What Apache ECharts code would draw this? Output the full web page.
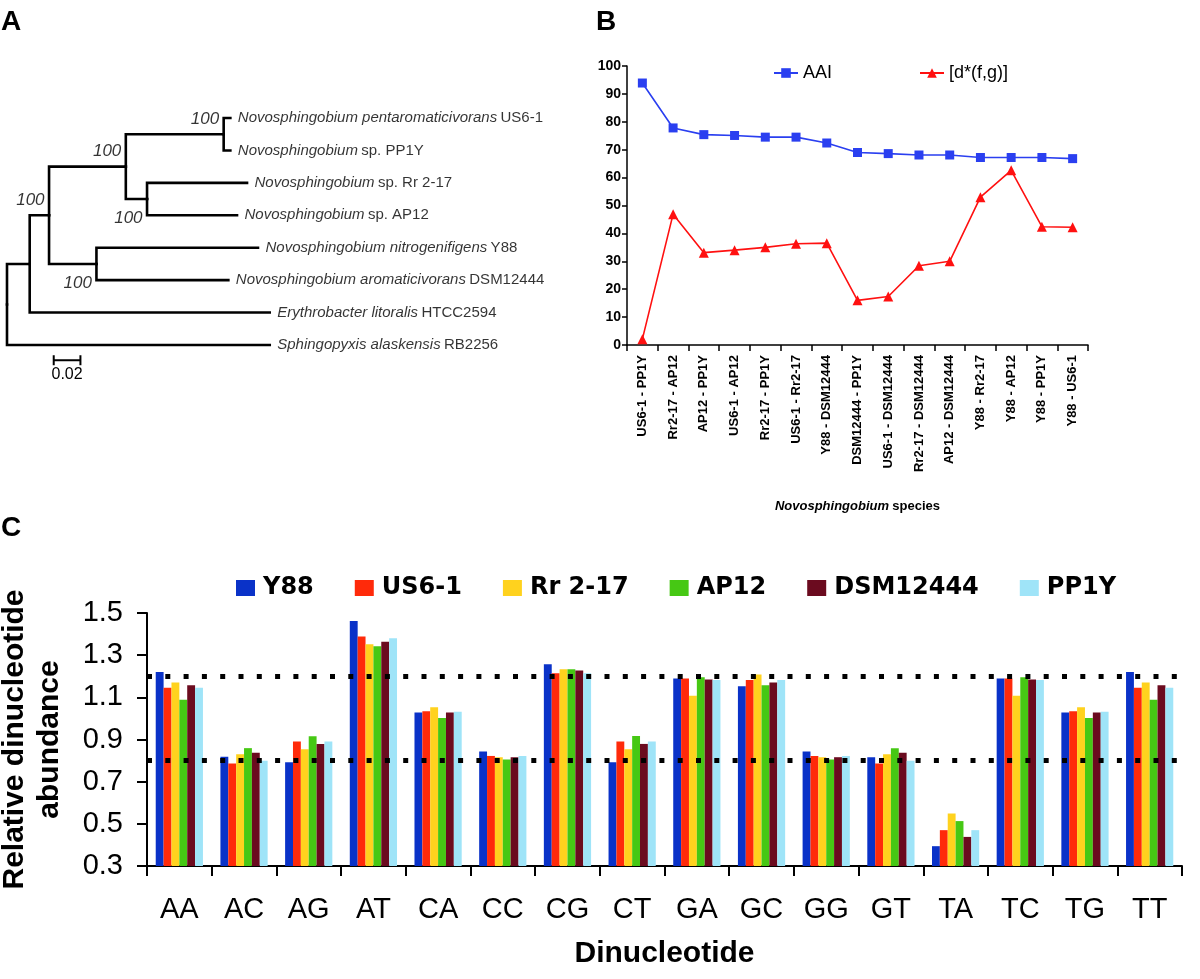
<!DOCTYPE html>
<html>
<head>
<meta charset="utf-8">
<script src="https://cdn.jsdelivr.net/npm/echarts@6/dist/echarts.min.js"></script>
<style>
  html, body { margin: 0; background: #fff; }
  #fig { width: 1200px; height: 979px; }
</style>
</head>
<body>
<div id="fig"></div>
<script>
var SANS = '"Liberation Sans", Arial, sans-serif';

// ---- panel A: tree (depth = substitutions/site from root)
var nodeIds    = ['root', 'n1', 'n2', 'n3', 'n4', 'US6-1', 'PP1Y', 'n5', 'Rr2-17', 'AP12', 'n6', 'Y88', 'DSM12444', 'HTCC2594', 'RB2256'];
var nodeParent = [null, 'root', 'n1', 'n2', 'n3', 'n4', 'n4', 'n3', 'n5', 'n5', 'n2', 'n6', 'n6', 'n1', 'root'];
var nodeDepth  = [0, 0.017, 0.0315, 0.089, 0.1623, 0.1673, 0.1673, 0.1049, 0.1798, 0.1723, 0.067, 0.188, 0.1658, 0.1968, 0.1968];
var leafOrder  = ['US6-1', 'PP1Y', 'Rr2-17', 'AP12', 'Y88', 'DSM12444', 'HTCC2594', 'RB2256'];
var leafItalic = ['Novosphingobium pentaromaticivorans', 'Novosphingobium', 'Novosphingobium', 'Novosphingobium',
                  'Novosphingobium nitrogenifigens', 'Novosphingobium aromaticivorans', 'Erythrobacter litoralis', 'Sphingopyxis alaskensis'];
var leafPlain  = ['US6-1', 'sp. PP1Y', 'sp. Rr 2-17', 'sp. AP12', 'Y88', 'DSM12444', 'HTCC2594', 'RB2256'];
var bootNodes  = ['n2', 'n3', 'n4', 'n5', 'n6'];
var bootValues = [100, 100, 100, 100, 100];
var bootAnchor = ['mid', 'mid', 'top', 'bottom', 'bottom'];
var scaleBar   = [0.035, 0.02]; // start, length
var scaleLabel = '0.02';

// ---- panel B
var pairs = ['US6-1 - PP1Y', 'Rr2-17 - AP12', 'AP12 - PP1Y', 'US6-1 - AP12', 'Rr2-17 - PP1Y', 'US6-1 - Rr2-17',
             'Y88 - DSM12444', 'DSM12444 - PP1Y', 'US6-1 - DSM12444', 'Rr2-17 - DSM12444', 'AP12 - DSM12444',
             'Y88 - Rr2-17', 'Y88 - AP12', 'Y88 - PP1Y', 'Y88 - US6-1'];
var aai   = [93.9, 77.8, 75.4, 75.1, 74.5, 74.5, 72.4, 69.0, 68.6, 68.1, 68.1, 67.2, 67.2, 67.2, 66.8];
var dstar = [2.1, 46.9, 33.1, 34.0, 35.0, 36.3, 36.5, 16.0, 17.4, 28.4, 30.0, 53.0, 62.6, 42.4, 42.2];

// ---- panel C
var dinucs  = ['AA', 'AC', 'AG', 'AT', 'CA', 'CC', 'CG', 'CT', 'GA', 'GC', 'GG', 'GT', 'TA', 'TC', 'TG', 'TT'];
var strains = ['Y88', 'US6-1', 'Rr 2-17', 'AP12', 'DSM12444', 'PP1Y'];
var y88   = [1.22, 0.818, 0.792, 1.462, 1.028, 0.843, 1.257, 0.792, 1.189, 1.152, 0.843, 0.816, 0.394, 1.189, 1.028, 1.22];
var us61  = [1.146, 0.786, 0.89, 1.388, 1.034, 0.822, 1.214, 0.89, 1.189, 1.182, 0.822, 0.786, 0.47, 1.189, 1.034, 1.146];
var rr217 = [1.17, 0.83, 0.854, 1.352, 1.053, 0.816, 1.233, 0.854, 1.108, 1.208, 0.816, 0.83, 0.549, 1.108, 1.053, 1.17];
var ap12  = [1.089, 0.859, 0.915, 1.342, 1.002, 0.805, 1.233, 0.917, 1.195, 1.157, 0.805, 0.859, 0.513, 1.195, 1.002, 1.089];
var dsm   = [1.157, 0.837, 0.879, 1.364, 1.028, 0.816, 1.227, 0.879, 1.184, 1.17, 0.816, 0.837, 0.438, 1.184, 1.028, 1.157];
var pp1y  = [1.146, 0.799, 0.89, 1.38, 1.032, 0.822, 1.214, 0.89, 1.182, 1.182, 0.822, 0.799, 0.47, 1.182, 1.032, 1.146];
var thresholds = [1.2, 0.8];
var yTicksC = [0.3, 1.5, 0.2]; // min, max, step
var strainColors = ['#0a32c8', '#ff2a0a', '#ffd21e', '#46c814', '#6b0b1f', '#9fe4f8'];

// tree layout helpers
function idx(id) { return nodeIds.indexOf(id); }
function children(id) {
  var out = [];
  nodeParent.forEach(function (p, i) { if (p === id) out.push(nodeIds[i]); });
  return out;
}
function nodeY(id) {
  var li = leafOrder.indexOf(id);
  if (li >= 0) return li;
  var ys = children(id).map(nodeY);
  return (Math.min.apply(null, ys) + Math.max.apply(null, ys)) / 2;
}
var edges = [];
nodeIds.forEach(function (id, i) {
  var p = nodeParent[i];
  if (!p) return;
  edges.push([nodeDepth[idx(p)], nodeY(p), nodeDepth[i], nodeY(id)]);
});
var leafPts = leafOrder.map(function (id, i) { return [nodeDepth[idx(id)], i]; });
var bootPts = bootNodes.map(function (id, i) {
  var ys = children(id).map(nodeY);
  var y = bootAnchor[i] === 'top' ? Math.min.apply(null, ys)
        : bootAnchor[i] === 'bottom' ? Math.max.apply(null, ys) : nodeY(id);
  return { value: [nodeDepth[idx(id)], y], anchor: bootAnchor[i], text: bootValues[i] };
});

var chart = echarts.init(document.getElementById('fig'));

var barData = [y88, us61, rr217, ap12, dsm, pp1y];
var barSeries = strains.map(function (s, i) {
  var o = {
    name: s, type: 'bar', xAxisIndex: 2, yAxisIndex: 2,
    data: barData[i], barGap: '0%', barCategoryGap: '27%',
    itemStyle: { color: strainColors[i] }
  };
  if (i === strains.length - 1) {
    o.markLine = {
      silent: true, symbol: ['none', 'none'], label: { show: false },
      lineStyle: { color: '#000', width: 5, type: [5, 13.3], opacity: 1 },
      data: thresholds.map(function (t) { return { yAxis: t }; })
    };
  }
  return o;
});

var option = {
  animation: false,
  textStyle: { fontFamily: SANS, color: '#000' },
  graphic: [
    { type: 'text', left: 1, top: 8, style: { text: 'A', fontSize: 28, fontWeight: 'bold', fontFamily: SANS, fill: '#000' } },
    { type: 'text', left: 596, top: 8, style: { text: 'B', fontSize: 28, fontWeight: 'bold', fontFamily: SANS, fill: '#000' } },
    { type: 'text', left: 1, top: 514, style: { text: 'C', fontSize: 28, fontWeight: 'bold', fontFamily: SANS, fill: '#000' } }
  ],
  legend: [
    {
      data: ['AAI', '[d*(f,g)]'], left: 768, top: 59, itemGap: 87, itemWidth: 24, itemHeight: 12,
      textStyle: { fontSize: 18, fontFamily: SANS, color: '#000' }
    },
    {
      data: strains, left: 231, top: 571, itemGap: 41, itemWidth: 19, itemHeight: 16, icon: 'rect',
      textStyle: { fontSize: 24, fontWeight: 'bold', fontFamily: '"DejaVu Sans", sans-serif', color: '#000', padding: [0, 0, 0, 3] }
    }
  ],
  grid: [
    { left: 7, top: 118, width: 267, height: 227, outerBoundsMode: 'none' },
    { left: 627, top: 66, width: 461, height: 279, outerBoundsMode: 'none' },
    { left: 147, top: 613, width: 1035, height: 253, outerBoundsMode: 'none' }
  ],
  xAxis: [
    { gridIndex: 0, type: 'value', min: 0, max: 0.2, show: false },
    {
      gridIndex: 1, type: 'category', data: pairs,
      axisLine: { lineStyle: { color: '#000', width: 1.5 } },
      axisTick: { show: true, length: 6, interval: 0, lineStyle: { color: '#000', width: 1.5 } },
      axisLabel: { interval: 0, rotate: 90, fontSize: 13, fontWeight: 'bold', color: '#000', margin: 10, fontFamily: SANS },
      name: '{i|Novosphingobium} {b|species}', nameLocation: 'middle', nameGap: 155,
      nameTextStyle: {
        rich: {
          i: { fontStyle: 'italic', fontWeight: 'bold', fontSize: 13, fontFamily: SANS, color: '#000' },
          b: { fontWeight: 'bold', fontSize: 13, fontFamily: SANS, color: '#000' }
        }
      }
    },
    {
      gridIndex: 2, type: 'category', data: dinucs,
      axisLine: { lineStyle: { color: '#000', width: 2 } },
      axisTick: { show: true, length: 10, interval: 0, lineStyle: { color: '#000', width: 2 } },
      axisLabel: { interval: 0, fontSize: 29, color: '#000', margin: 29, fontFamily: SANS },
      name: 'Dinucleotide', nameLocation: 'middle', nameGap: 73,
      nameTextStyle: { fontSize: 30, fontWeight: 'bold', color: '#000', fontFamily: SANS }
    }
  ],
  yAxis: [
    { gridIndex: 0, type: 'value', min: 0, max: 7, inverse: true, show: false },
    {
      gridIndex: 1, type: 'value', min: 0, max: 100, interval: 10,
      axisLine: { show: true, lineStyle: { color: '#000', width: 1.5 } },
      axisTick: { show: true, length: 5, lineStyle: { color: '#000', width: 1.5 } },
      axisLabel: { fontSize: 14, fontWeight: 'bold', color: '#000', margin: 6, fontFamily: SANS },
      splitLine: { show: false }
    },
    {
      gridIndex: 2, type: 'value', min: yTicksC[0], max: yTicksC[1], interval: yTicksC[2],
      axisLine: { show: true, lineStyle: { color: '#000', width: 2 } },
      axisTick: { show: true, length: 10, lineStyle: { color: '#000', width: 2 } },
      axisLabel: { fontSize: 29, color: '#000', margin: 24, fontFamily: SANS,
                   formatter: function (v) { return v.toFixed(1); } },
      splitLine: { show: false },
      name: 'Relative dinucleotide\nabundance', nameLocation: 'middle', nameGap: 80,
      nameTextStyle: { fontSize: 30, fontWeight: 'bold', color: '#000', lineHeight: 35, fontFamily: SANS }
    }
  ],
  series: [
    {
      type: 'custom', xAxisIndex: 0, yAxisIndex: 0, data: edges, encode: { x: [0, 2], y: [1, 3] }, silent: true,
      renderItem: function (params, api) {
        var p = api.coord([api.value(0), api.value(1)]);
        var m = api.coord([api.value(0), api.value(3)]);
        var c = api.coord([api.value(2), api.value(3)]);
        return { type: 'polyline', shape: { points: [p, m, c] },
                 style: { stroke: '#000', lineWidth: 2.6, fill: null, lineJoin: 'miter', lineCap: 'square' } };
      }
    },
    {
      type: 'custom', xAxisIndex: 0, yAxisIndex: 0, silent: true,
      data: [[scaleBar[0], 7.47, scaleBar[0] + scaleBar[1]]],
      renderItem: function (params, api) {
        var a = api.coord([api.value(0), api.value(1)]);
        var b = api.coord([api.value(2), api.value(1)]);
        var st = { stroke: '#000', lineWidth: 2 };
        return { type: 'group', children: [
          { type: 'line', shape: { x1: a[0], y1: a[1], x2: b[0], y2: b[1] }, style: st },
          { type: 'line', shape: { x1: a[0], y1: a[1] - 5, x2: a[0], y2: a[1] + 5 }, style: st },
          { type: 'line', shape: { x1: b[0], y1: b[1] - 5, x2: b[0], y2: b[1] + 5 }, style: st },
          { type: 'text', x: (a[0] + b[0]) / 2, y: a[1] + 6,
            style: { text: scaleLabel, fontSize: 16, fontFamily: SANS, fill: '#000', align: 'center', verticalAlign: 'top' } }
        ] };
      }
    },
    {
      type: 'scatter', xAxisIndex: 0, yAxisIndex: 0, data: leafPts, symbolSize: 1, silent: true,
      itemStyle: { color: 'rgba(0,0,0,0)' },
      label: {
        show: true, position: 'right', distance: 7,
        formatter: function (p) { return '{i|' + leafItalic[p.dataIndex] + '} {n|' + leafPlain[p.dataIndex] + '}'; },
        rich: {
          i: { fontStyle: 'italic', fontSize: 15, fontFamily: SANS, color: '#000' },
          n: { fontSize: 15, fontFamily: SANS, color: '#000' }
        }
      }
    },
    {
      type: 'scatter', xAxisIndex: 0, yAxisIndex: 0, symbolSize: 1, silent: true,
      itemStyle: { color: 'rgba(0,0,0,0)' },
      data: bootPts.map(function (b) {
        var dy = b.anchor === 'mid' ? -15 : (b.anchor === 'bottom' ? 3 : 1);
        return { value: b.value, label: { offset: [0, dy] }, name: String(b.text) };
      }),
      label: {
        show: true, position: 'left', distance: 4, formatter: '{b}',
        fontStyle: 'italic', fontSize: 17, fontFamily: SANS, color: '#000'
      }
    },
    {
      name: 'AAI', type: 'line', xAxisIndex: 1, yAxisIndex: 1, data: aai,
      symbol: 'rect', symbolSize: 9, color: '#2a3ff0',
      lineStyle: { width: 1.6, color: '#2a3ff0' }, itemStyle: { color: '#2a3ff0' }
    },
    {
      name: '[d*(f,g)]', type: 'line', xAxisIndex: 1, yAxisIndex: 1, data: dstar,
      symbol: 'triangle', symbolSize: 10, color: '#ff1010',
      lineStyle: { width: 1.6, color: '#ff1010' }, itemStyle: { color: '#ff1010' }
    }
  ].concat(barSeries)
};

chart.setOption(option);
</script>
</body>
</html>
